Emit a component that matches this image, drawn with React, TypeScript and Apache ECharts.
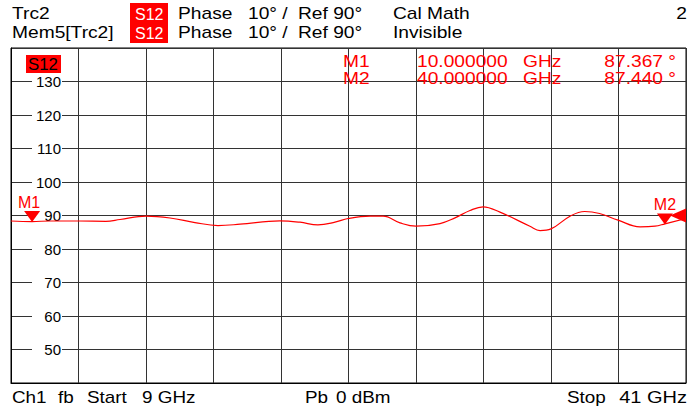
import React, { useEffect, useRef } from "react";
import * as echarts from "echarts";

const freqsGHz = [9.0, 10.0, 10.85, 12.22, 13.5, 14.17, 15.4, 16.54, 17.72, 18.81, 19.86, 21.75, 22.7, 23.55, 24.36, 24.98, 26.02, 26.64, 27.44, 28.2, 29.34, 30.05, 30.76, 31.38, 32.18, 33.6, 34.08, 34.6, 35.5, 36.2, 36.9, 37.78, 38.82, 39.53, 40.0, 41.0];
const phaseDeg = [88.36, 88.2, 88.36, 88.36, 88.27, 88.8, 89.8, 89.25, 87.9, 87.0, 87.4, 88.4, 88.0, 87.2, 88.0, 89.1, 89.8, 89.8, 87.8, 86.8, 87.6, 89.3, 91.5, 92.6, 91.0, 86.8, 85.5, 86.0, 89.8, 91.2, 90.6, 88.6, 86.6, 86.8, 87.5, 89.1];

const markerNames = ["M1", "M2"];
const markerFreqs = [10.0, 40.0];
const markerFreqText = ["10.000000", "40.000000"];
const markerValueText = ["87.367 °", "87.440 °"];
const refLevel = 90;

const headerRow1 = ["Trc2", "S12", "Phase", "10° /", "Ref 90°", "Cal Math"];
const headerRow2 = ["Mem5[Trc2]", "S12", "Phase", "10° /", "Ref 90°", "Invisible"];
const footerLeft = ["Ch1", "fb", "Start", "9 GHz"];
const footerMid = ["Pb", "0 dBm"];
const footerRight = ["Stop", "41 GHz"];

const FONT = "'Liberation Sans', Arial, sans-serif";

export default function App() {
  const ref = useRef<HTMLDivElement>(null);
  useEffect(() => {
    if (!ref.current) return;
    const chart = echarts.init(ref.current, undefined, { renderer: "svg" });
    const data = freqsGHz.map((f, i) => [f, phaseDeg[i]]);
    const markerData = markerFreqs.map((f, i) => {
      const idx = freqsGHz.indexOf(f);
      return {
        name: markerNames[i],
        coord: [f, phaseDeg[idx]],
        symbol: "path://M0,0 L2,0 L1,1.1 Z",
        symbolSize: [16, 11],
        symbolOffset: [0, -5],
        itemStyle: { color: "#ff0000" },
        label: {
          show: true,
          formatter: markerNames[i],
          position: "top",
          distance: 1,
          color: "#ff0000",
          fontSize: 16,
          fontFamily: FONT,
          offset: i === 0 ? [-3, 0] : [0, 0],
        },
      };
    });
    const refArrow = {
      name: "ref",
      coord: [41, refLevel],
      symbol: "path://M1,0 L1,1 L0,0.5 Z",
      symbolSize: [16, 14],
      symbolOffset: [-8, 0],
      itemStyle: { color: "#ff0000" },
      label: { show: false },
    };

    const txt = (x: number, y: number, text: string, color = "#000", size = 16, align = "left", sx = 1.2) => ({
      type: "text",
      x,
      y,
      z: 20,
      scaleX: sx,
      style: { text, fill: color, font: `${size}px ${FONT}`, textAlign: align, textVerticalAlign: "middle" },
    });
    const box = (x: number, y: number, w: number, h: number) => ({
      type: "rect",
      z: 19,
      shape: { x, y, width: w, height: h },
      style: { fill: "#ff0000" },
    });

    const hdrX = [12, 135, 178, 248, 298, 393];
    const graphics: any[] = [];
    headerRow1.forEach((t, i) => graphics.push(txt(hdrX[i], 14, t, i === 1 ? "#fff" : "#000", 16, "left", i === 1 ? 1 : 1.2)));
    headerRow2.forEach((t, i) => graphics.push(txt(hdrX[i], 33, t, i === 1 ? "#fff" : "#000", 16, "left", i === 1 ? 1 : 1.2)));
    graphics.push(box(130, 3, 38, 20));
    graphics.push(box(130, 23, 38, 20));
    graphics.push(txt(687, 14, "2", "#000", 16, "right"));
    // plot label
    graphics.push(box(26, 55, 35, 18));
    graphics.push(txt(28, 64, "S12", "#000", 16, "left", 1.05));
    // marker table
    const rowY = [62, 79];
    markerNames.forEach((m, i) => {
      graphics.push(txt(343, rowY[i], m, "#ff0000", 16));
      graphics.push(txt(417, rowY[i], markerFreqText[i], "#ff0000", 16));
      graphics.push(txt(523, rowY[i], "GHz", "#ff0000", 16));
      graphics.push(txt(676, rowY[i], markerValueText[i], "#ff0000", 16, "right"));
    });
    // footer
    const flX = [12, 58, 87, 142];
    footerLeft.forEach((t, i) => graphics.push(txt(flX[i], 398, t, "#000", 16, "left", 1.18)));
    const fmX = [305, 336];
    footerMid.forEach((t, i) => graphics.push(txt(fmX[i], 398, t, "#000", 16, "left", 1.18)));
    graphics.push(txt(567, 398, footerRight[0], "#000", 16, "left", 1.18));
    graphics.push(txt(687, 398, footerRight[1], "#000", 16, "right", 1.25));

    chart.setOption({
      animation: false,
      grid: { left: 11, right: 7, top: 48, bottom: 30, show: true, borderColor: "#000", borderWidth: 1 },
      xAxis: [
        { type: "value", min: 9, max: 41, show: false },
        {
          type: "value",
          min: 0,
          max: 10,
          interval: 1,
          position: "bottom",
          axisLine: { show: true, lineStyle: { color: "#000" } },
          axisTick: { show: false },
          axisLabel: { show: false },
          splitLine: { show: true, lineStyle: { color: "#333", width: 1 } },
        },
      ],
      yAxis: {
        type: "value",
        min: 40,
        max: 140,
        interval: 10,
        axisLine: { show: true, lineStyle: { color: "#000" } },
        axisTick: { show: false },
        splitLine: { show: true, lineStyle: { color: "#333", width: 1 } },
        axisLabel: {
          inside: true,
          showMinLabel: false,
          showMaxLabel: false,
          align: "right",
          margin: 51,
          color: "#000",
          fontSize: 15,
          fontFamily: FONT,
          backgroundColor: "#fff",
          width: 29,
          padding: [0, 1, 0, 0],
        },
      },
      series: [
        {
          type: "line",
          xAxisIndex: 0,
          data,
          smooth: 0.4,
          showSymbol: false,
          lineStyle: { color: "#ff0000", width: 1.2 },
          markPoint: { data: [...markerData, refArrow] },
        },
      ],
      graphic: graphics,
    });
    return () => chart.dispose();
  }, []);
  return <div ref={ref} style={{ position: "absolute", left: 0, top: 0, width: 693, height: 413, background: "#fff" }} />;
}
